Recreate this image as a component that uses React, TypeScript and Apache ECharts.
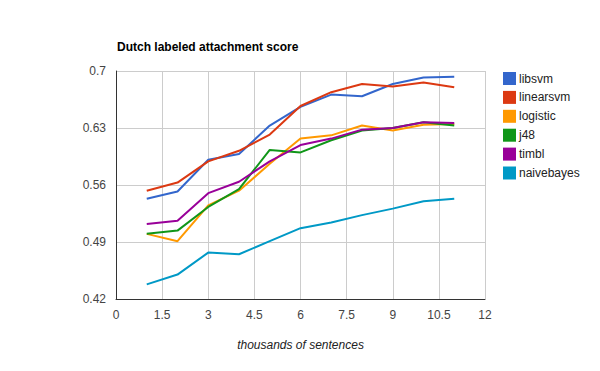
import React, { useEffect, useRef } from "react";
import * as echarts from "echarts";

const xValues = [1, 2, 3, 4, 5, 6, 7, 8, 9, 10, 11];
const seriesNames = ["libsvm", "linearsvm", "logistic", "j48", "timbl", "naivebayes"];
const libsvm = [0.543, 0.552, 0.591, 0.598, 0.633, 0.656, 0.671, 0.669, 0.684, 0.692, 0.693];
const linearsvm = [0.553, 0.563, 0.589, 0.602, 0.622, 0.657, 0.674, 0.684, 0.681, 0.686, 0.680];
const logistic = [0.500, 0.491, 0.535, 0.553, 0.586, 0.617, 0.621, 0.633, 0.627, 0.634, 0.635];
const j48 = [0.500, 0.504, 0.533, 0.555, 0.603, 0.600, 0.615, 0.627, 0.630, 0.637, 0.633];
const timbl = [0.512, 0.516, 0.550, 0.564, 0.589, 0.609, 0.617, 0.628, 0.630, 0.637, 0.636];
const naivebayes = [0.438, 0.450, 0.477, 0.475, 0.491, 0.507, 0.514, 0.523, 0.531, 0.540, 0.543];
const colors = ["#3366cc", "#dc3912", "#ff9900", "#109618", "#990099", "#0099c6"];

export default function App() {
  const ref = useRef<HTMLDivElement>(null);
  useEffect(() => {
    if (!ref.current) return;
    const chart = echarts.init(ref.current, undefined, { renderer: "svg" });
    const all = [libsvm, linearsvm, logistic, j48, timbl, naivebayes];
    chart.setOption({
      animation: false,
      color: colors,
      title: {
        text: "Dutch labeled attachment score",
        left: 112,
        top: 36,
        textStyle: { fontFamily: "Liberation Sans, Arial", fontSize: 12, fontWeight: "bold", color: "#000" },
      },
      legend: {
        orient: "vertical",
        left: 498,
        top: 67,
        itemWidth: 13,
        itemHeight: 13,
        itemGap: 5.9,
        icon: "rect",
        textStyle: { fontFamily: "Liberation Sans, Arial", fontSize: 12, color: "#222", padding: [0, 0, 0, -2] },
        data: seriesNames,
      },
      grid: { left: 116, right: 115, top: 71, bottom: 72, containLabel: false },
      xAxis: {
        type: "value",
        min: 0,
        max: 12,
        interval: 1.5,
        name: "thousands of sentences",
        nameLocation: "middle",
        nameGap: 40,
        nameTextStyle: { fontFamily: "Liberation Sans, Arial", fontSize: 12, fontStyle: "italic", color: "#222" },
        axisLine: { show: true, lineStyle: { color: "#333", width: 1 } },
        axisTick: { show: false },
        axisLabel: { fontFamily: "Liberation Sans, Arial", fontSize: 12, color: "#444", margin: 10 },
        splitLine: { show: true, lineStyle: { color: "#cccccc", width: 1 } },
      },
      yAxis: {
        type: "value",
        min: 0.42,
        max: 0.7,
        interval: 0.07,
        axisLine: { show: true, lineStyle: { color: "#333", width: 1 } },
        axisTick: { show: false },
        axisLabel: {
          fontFamily: "Liberation Sans, Arial",
          fontSize: 12,
          color: "#444",
          margin: 10,
          formatter: (v: number) => String(Math.round(v * 100) / 100),
        },
        splitLine: { show: true, lineStyle: { color: "#cccccc", width: 1 } },
      },
      series: seriesNames.map((name, i) => ({
        name,
        type: "line",
        showSymbol: false,
        symbol: "none",
        lineStyle: { width: 2 },
        data: xValues.map((x, j) => [x, all[i][j]]),
      })),
    });
    return () => chart.dispose();
  }, []);
  return <div ref={ref} style={{ width: 600, height: 371, position: "absolute", left: 0, top: 0 }} />;
}
